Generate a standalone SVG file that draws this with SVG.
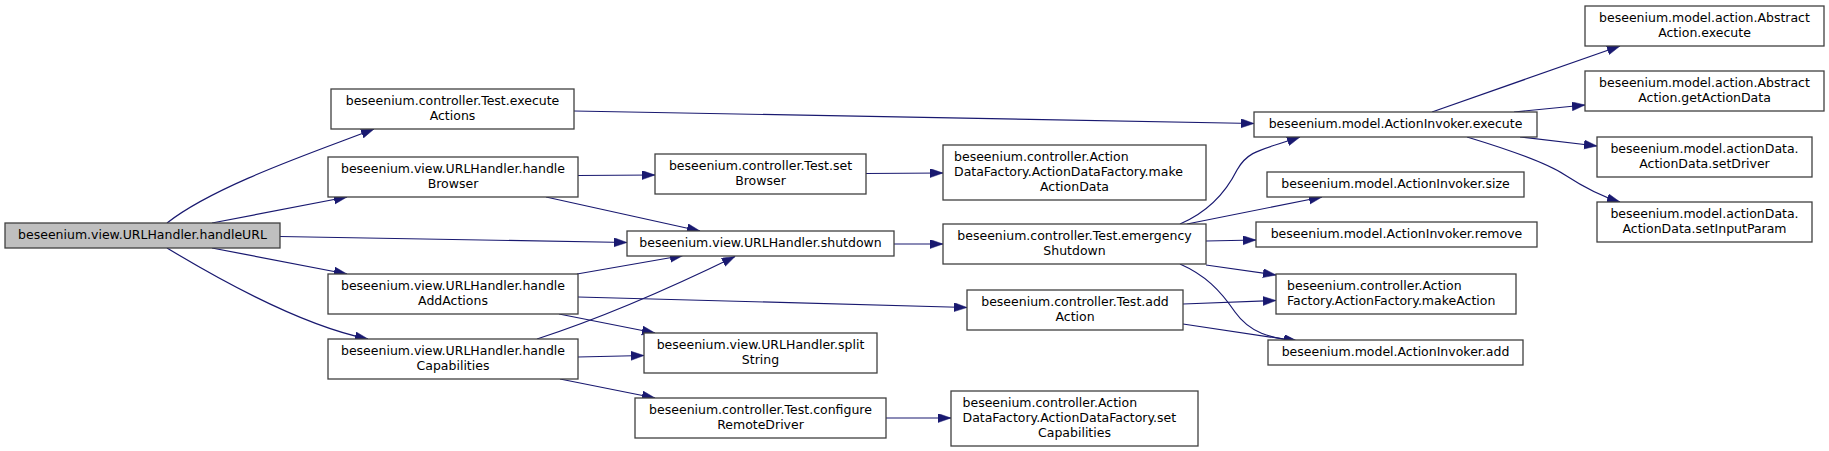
<svg xmlns="http://www.w3.org/2000/svg" width="1829" height="451" viewBox="0 0 1829 451">
<style>
  .node rect { fill: #ffffff; stroke: #404040; stroke-width: 1.3; }
  .root rect { fill: #bfbfbf; }
  .node text { font-family: "DejaVu Sans", sans-serif; font-size: 12.5px; fill: #000000; }
  .c { text-anchor: middle; }
  .l { text-anchor: start; }
  .edge { fill: none; stroke: #191970; stroke-width: 1.2; marker-end: url(#arr); }
</style>
<defs>
  <marker id="arr" markerUnits="userSpaceOnUse" viewBox="0 0 14 10" markerWidth="14" markerHeight="10" refX="13" refY="4.5" orient="auto">
    <path d="M0,0 L13,4.5 L0,9 z" fill="#191970" stroke="#191970" stroke-width="0.5"/>
  </marker>
</defs>
<rect x="0" y="0" width="1829" height="451" fill="#ffffff"/>

<g id="connectors">
  <path class="edge" d="M167,223 C215,185 320,150 374,129"/>
  <path class="edge" d="M212,223 L347,197"/>
  <path class="edge" d="M280,236.5 L627,242.5"/>
  <path class="edge" d="M212,248 L347,274"/>
  <path class="edge" d="M167,248 C220,280 300,325 368,339"/>
  <path class="edge" d="M574,111 L1254,123.5"/>
  <path class="edge" d="M578,175.5 L655,175"/>
  <path class="edge" d="M546,197 L700,231"/>
  <path class="edge" d="M866,173.5 L943,173"/>
  <path class="edge" d="M894,244 L943,244"/>
  <path class="edge" d="M577,274 L683,255.5"/>
  <path class="edge" d="M559,314 L655,333"/>
  <path class="edge" d="M578,297 L967,307.5"/>
  <path class="edge" d="M537,339 C580,325 650,298 735,256.5"/>
  <path class="edge" d="M578,357 L644,355.5"/>
  <path class="edge" d="M560,379 L655,398"/>
  <path class="edge" d="M886,418 L951,418"/>
  <path class="edge" d="M1180,224 C1208,212 1226,192 1237,170 C1248,150 1262,150 1300,137"/>
  <path class="edge" d="M1187,224 L1322,197"/>
  <path class="edge" d="M1206,241 L1256,240"/>
  <path class="edge" d="M1206,265 L1276,275"/>
  <path class="edge" d="M1180,264 C1205,275 1220,290 1235,312 C1250,333 1270,338 1297,341"/>
  <path class="edge" d="M1183,304 L1276,300.5"/>
  <path class="edge" d="M1183,324 L1297,341"/>
  <path class="edge" d="M1432,112 L1620,46"/>
  <path class="edge" d="M1514,112 L1585,105"/>
  <path class="edge" d="M1520,137 L1597,146"/>
  <path class="edge" d="M1467,137 C1510,150 1545,162 1565,175 C1585,188 1600,196 1620,202"/>
</g>

<g id="handleURL" class="node root">
  <rect x="5" y="223" width="275" height="25"/>
  <text class="c" x="142.5" y="239">beseenium.view.URLHandler.handleURL</text>
</g>
<g id="executeActions" class="node">
  <rect x="331" y="89" width="243" height="40"/>
  <text class="c" x="452.5" y="104.5">beseenium.controller.Test.execute</text>
  <text class="c" x="452.5" y="119.5">Actions</text>
</g>
<g id="handleBrowser" class="node">
  <rect x="328" y="157" width="250" height="40"/>
  <text class="c" x="453" y="172.5">beseenium.view.URLHandler.handle</text>
  <text class="c" x="453" y="187.5">Browser</text>
</g>
<g id="handleAddActions" class="node">
  <rect x="328" y="274" width="250" height="40"/>
  <text class="c" x="453" y="289.5">beseenium.view.URLHandler.handle</text>
  <text class="c" x="453" y="304.5">AddActions</text>
</g>
<g id="handleCapabilities" class="node">
  <rect x="328" y="339" width="250" height="40"/>
  <text class="c" x="453" y="354.5">beseenium.view.URLHandler.handle</text>
  <text class="c" x="453" y="369.5">Capabilities</text>
</g>
<g id="setBrowser" class="node">
  <rect x="655" y="154" width="211" height="40"/>
  <text class="c" x="760.5" y="169.5">beseenium.controller.Test.set</text>
  <text class="c" x="760.5" y="184.5">Browser</text>
</g>
<g id="makeActionData" class="node">
  <rect x="943" y="145" width="263" height="55"/>
  <text class="l" x="954" y="160.7">beseenium.controller.Action</text>
  <text class="l" x="954" y="175.7">DataFactory.ActionDataFactory.make</text>
  <text class="c" x="1074.5" y="190.7">ActionData</text>
</g>
<g id="shutdown" class="node">
  <rect x="627" y="231" width="267" height="25"/>
  <text class="c" x="760.5" y="247">beseenium.view.URLHandler.shutdown</text>
</g>
<g id="emergencyShutdown" class="node">
  <rect x="943" y="224" width="263" height="40"/>
  <text class="c" x="1074.5" y="239.5">beseenium.controller.Test.emergency</text>
  <text class="c" x="1074.5" y="254.5">Shutdown</text>
</g>
<g id="addAction" class="node">
  <rect x="967" y="290" width="216" height="40"/>
  <text class="c" x="1075" y="305.5">beseenium.controller.Test.add</text>
  <text class="c" x="1075" y="320.5">Action</text>
</g>
<g id="splitString" class="node">
  <rect x="644" y="333" width="233" height="40"/>
  <text class="c" x="760.5" y="348.5">beseenium.view.URLHandler.split</text>
  <text class="c" x="760.5" y="363.5">String</text>
</g>
<g id="configureRemoteDriver" class="node">
  <rect x="635" y="398" width="251" height="40"/>
  <text class="c" x="760.5" y="413.5">beseenium.controller.Test.configure</text>
  <text class="c" x="760.5" y="428.5">RemoteDriver</text>
</g>
<g id="setCapabilities" class="node">
  <rect x="951" y="391" width="247" height="55"/>
  <text class="l" x="962.5" y="406.7">beseenium.controller.Action</text>
  <text class="l" x="962.5" y="421.7">DataFactory.ActionDataFactory.set</text>
  <text class="c" x="1074.5" y="436.7">Capabilities</text>
</g>
<g id="invokerExecute" class="node">
  <rect x="1254" y="112" width="283" height="25"/>
  <text class="c" x="1395.5" y="128">beseenium.model.ActionInvoker.execute</text>
</g>
<g id="invokerSize" class="node">
  <rect x="1267" y="172" width="257" height="25"/>
  <text class="c" x="1395.5" y="188">beseenium.model.ActionInvoker.size</text>
</g>
<g id="invokerRemove" class="node">
  <rect x="1256" y="222" width="281" height="25"/>
  <text class="c" x="1396.5" y="238">beseenium.model.ActionInvoker.remove</text>
</g>
<g id="makeAction" class="node">
  <rect x="1276" y="274" width="240" height="40"/>
  <text class="l" x="1287" y="289.5">beseenium.controller.Action</text>
  <text class="l" x="1287" y="304.5">Factory.ActionFactory.makeAction</text>
</g>
<g id="invokerAdd" class="node">
  <rect x="1268" y="340" width="255" height="25"/>
  <text class="c" x="1395.5" y="356">beseenium.model.ActionInvoker.add</text>
</g>
<g id="abstractExecute" class="node">
  <rect x="1585" y="6" width="239" height="40"/>
  <text class="c" x="1704.5" y="21.5">beseenium.model.action.Abstract</text>
  <text class="c" x="1704.5" y="36.5">Action.execute</text>
</g>
<g id="getActionData" class="node">
  <rect x="1585" y="71" width="239" height="40"/>
  <text class="c" x="1704.5" y="86.5">beseenium.model.action.Abstract</text>
  <text class="c" x="1704.5" y="101.5">Action.getActionData</text>
</g>
<g id="setDriver" class="node">
  <rect x="1597" y="137" width="215" height="40"/>
  <text class="c" x="1704.5" y="152.5">beseenium.model.actionData.</text>
  <text class="c" x="1704.5" y="167.5">ActionData.setDriver</text>
</g>
<g id="setInputParam" class="node">
  <rect x="1597" y="202" width="215" height="40"/>
  <text class="c" x="1704.5" y="217.5">beseenium.model.actionData.</text>
  <text class="c" x="1704.5" y="232.5">ActionData.setInputParam</text>
</g>
</svg>
